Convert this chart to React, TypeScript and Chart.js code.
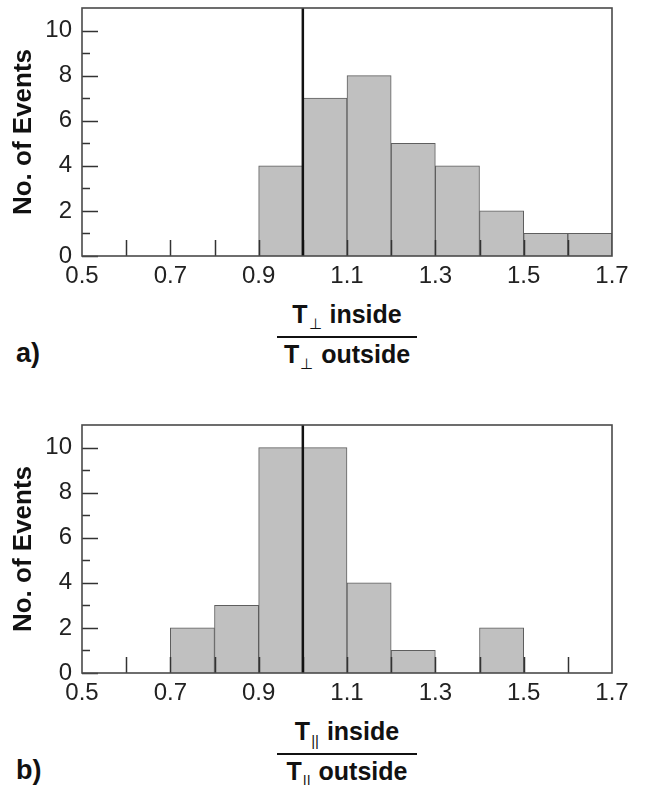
import React, { useEffect, useRef } from "react";
import { Chart, registerables } from "chart.js";

Chart.register(...registerables);

// ---- data ----
const BIN_STARTS = [0.5, 0.6, 0.7, 0.8, 0.9, 1.0, 1.1, 1.2, 1.3, 1.4, 1.5, 1.6];
const BIN_WIDTH = 0.1;
const COUNTS_PERP = [0, 0, 0, 0, 4, 7, 8, 5, 4, 2, 1, 1];
const COUNTS_PAR = [0, 0, 2, 3, 10, 10, 4, 1, 0, 2, 0, 0];
const X_LABEL_TICKS = [0.5, 0.7, 0.9, 1.1, 1.3, 1.5, 1.7];
const X_MARK_TICKS = [0.6, 0.7, 0.8, 0.9, 1.0, 1.1, 1.2, 1.3, 1.4, 1.5, 1.6];
const Y_LABEL_TICKS = [0, 2, 4, 6, 8, 10];
const Y_MINOR_TICKS = [1, 3, 5, 7, 9];
const X_MIN = 0.5;
const X_MAX = 1.7;
const Y_MIN = 0;
const Y_MAX = 11;
const REFERENCE_RATIO = 1.0;
const Y_TITLE = "No. of Events";

const FONT = "'Liberation Sans', Arial, Helvetica, sans-serif";

const frameTicksPlugin = {
  id: "frameTicks",
  afterDatasetsDraw(chart: any) {
    const { ctx, chartArea: a, scales } = chart;
    const xs = scales.x;
    const ys = scales.y;
    ctx.save();
    // inner tick marks on x
    ctx.strokeStyle = "#333";
    ctx.lineWidth = 1.5;
    X_MARK_TICKS.forEach((v) => {
      const px = Math.round(xs.getPixelForValue(v)) + 0.5;
      ctx.beginPath();
      ctx.moveTo(px, a.bottom);
      ctx.lineTo(px, a.bottom - 16);
      ctx.stroke();
    });
    // inner tick marks on y
    Y_LABEL_TICKS.forEach((v) => {
      const py = Math.round(ys.getPixelForValue(v)) + 0.5;
      ctx.beginPath();
      ctx.moveTo(a.left, py);
      ctx.lineTo(a.left + 16, py);
      ctx.stroke();
    });
    Y_MINOR_TICKS.forEach((v) => {
      const py = Math.round(ys.getPixelForValue(v)) + 0.5;
      ctx.beginPath();
      ctx.moveTo(a.left, py);
      ctx.lineTo(a.left + 8, py);
      ctx.stroke();
    });
    // reference line
    const rx = xs.getPixelForValue(REFERENCE_RATIO);
    ctx.strokeStyle = "#111";
    ctx.lineWidth = 2.5;
    ctx.beginPath();
    ctx.moveTo(rx, a.top);
    ctx.lineTo(rx, a.bottom);
    ctx.stroke();
    // frame
    ctx.strokeStyle = "#4a4a4a";
    ctx.lineWidth = 1.6;
    ctx.strokeRect(a.left, a.top, a.right - a.left, a.bottom - a.top);
    ctx.restore();
  },
};

const PAD_TOP = 40;
const PLOT_H = 248;
const XAXIS_H = 44;
const CANVAS_W = 645;
const CANVAS_H = PAD_TOP + PLOT_H + XAXIS_H;

function Histogram({ counts, plotTop }: { counts: number[]; plotTop: number }) {
  const ref = useRef<HTMLCanvasElement | null>(null);
  useEffect(() => {
    if (!ref.current) return;
    const chart = new Chart(ref.current, {
      type: "bar",
      data: {
        datasets: [
          {
            data: BIN_STARTS.map((s, i) => ({ x: s + BIN_WIDTH / 2, y: counts[i] })),
            backgroundColor: "#c0c0c0",
            borderColor: "#5e5e5e",
            borderWidth: 1,
            barPercentage: 1,
            categoryPercentage: 1,
          } as any,
        ],
      },
      options: {
        animation: false,
        responsive: false,
        devicePixelRatio: 1,
        layout: { padding: { top: PAD_TOP, right: 33, left: 0, bottom: 0 } },
        plugins: { legend: { display: false }, tooltip: { enabled: false } },
        scales: {
          x: {
            type: "linear",
            min: X_MIN,
            max: X_MAX,
            offset: false,
            grid: { display: false, drawTicks: false, offset: false },
            border: { display: false },
            afterBuildTicks: (s: any) => {
              s.ticks = X_LABEL_TICKS.map((v) => ({ value: v }));
            },
            afterFit: (s: any) => {
              s.height = XAXIS_H;
              s.paddingLeft = 0;
              s.paddingRight = 0;
            },
            ticks: {
              autoSkip: false,
              maxRotation: 0,
              minRotation: 0,
              padding: 6,
              color: "#222",
              font: { family: FONT, size: 24 },
              callback: (v: any) => Number(v).toFixed(1),
            },
          },
          y: {
            type: "linear",
            min: Y_MIN,
            max: Y_MAX,
            grid: { display: false, drawTicks: false },
            border: { display: false },
            afterBuildTicks: (s: any) => {
              s.ticks = Y_LABEL_TICKS.map((v) => ({ value: v }));
            },
            afterFit: (s: any) => {
              s.width = 82;
              s.paddingTop = 0;
              s.paddingBottom = 0;
            },
            ticks: {
              padding: 10,
              color: "#222",
              font: { family: FONT, size: 24 },
              callback: (v: any) => String(v),
            },
            title: {
              display: true,
              text: Y_TITLE,
              color: "#111",
              font: { family: FONT, size: 26, weight: "bold" },
              padding: { top: 8, bottom: 0 },
            },
          },
        },
      } as any,
      plugins: [frameTicksPlugin],
    });
    return () => chart.destroy();
  }, [counts]);
  return (
    <canvas
      ref={ref}
      width={CANVAS_W}
      height={CANVAS_H}
      style={{ position: "absolute", left: 0, top: plotTop - PAD_TOP, width: CANVAS_W, height: CANVAS_H, display: "block" }}
    />
  );
}

const boldText: React.CSSProperties = {
  position: "absolute",
  fontFamily: FONT,
  fontWeight: "bold",
  fontSize: 25,
  lineHeight: "25px",
  color: "#111",
  whiteSpace: "nowrap",
};

function Fraction({ axisY, sub, panel }: { axisY: number; sub: string; panel: string }) {
  const cx = 347;
  const subStyle: React.CSSProperties = {
    fontSize: 15,
    fontWeight: "normal",
    position: "relative",
    top: 6,
    marginLeft: 1,
    marginRight: 1,
  };
  const inBase = axisY + 67;
  const lineY = axisY + 81;
  const outBase = axisY + 107;
  return (
    <>
      <div style={{ ...boldText, left: cx - 150, width: 300, textAlign: "center", top: inBase - 21 }}>
        T<span style={subStyle}>{sub}</span> inside
      </div>
      <div style={{ position: "absolute", left: cx - 70, width: 140, top: lineY - 1, height: 2, background: "#111" }} />
      <div style={{ ...boldText, left: cx - 150, width: 300, textAlign: "center", top: outBase - 21 }}>
        T<span style={subStyle}>{sub}</span> outside
      </div>
      <div style={{ ...boldText, fontSize: 27, lineHeight: "27px", left: 16, top: outBase - 23 }}>{panel}</div>
    </>
  );
}

export default function App() {
  return (
    <div
      style={{
        position: "absolute",
        left: 0,
        top: 0,
        width: 645,
        height: 785,
        overflow: "hidden",
        background: "#fff",
      }}
    >
      <Histogram counts={COUNTS_PERP} plotTop={8} />
      <Fraction axisY={256} sub={"\u22A5"} panel="a)" />
      <Histogram counts={COUNTS_PAR} plotTop={425} />
      <Fraction axisY={673} sub={"||"} panel="b)" />
    </div>
  );
}
